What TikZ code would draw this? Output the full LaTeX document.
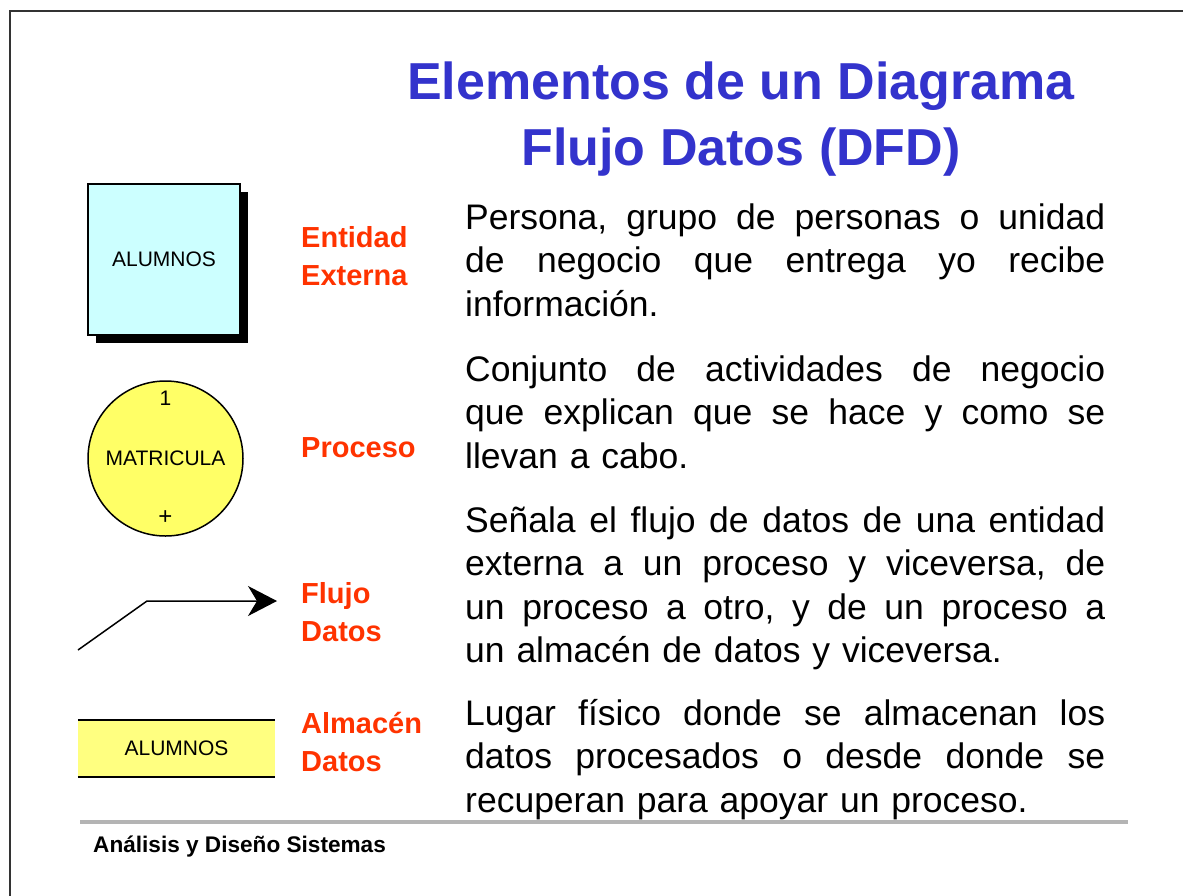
\documentclass[tikz,border=0pt]{standalone}
\usepackage{fontspec}
\setmainfont{Liberation Sans}
\usetikzlibrary{arrows.meta,shadows,positioning}
\definecolor{azulTitulo}{HTML}{3333CC}
\definecolor{rojoEtiq}{HTML}{FF3300}
\definecolor{celeste}{HTML}{CCFFFF}
\definecolor{amarillo}{HTML}{FFFF66}
\definecolor{amarilloAlm}{HTML}{FFFF80}
\definecolor{grisRegla}{HTML}{B4B4B4}
% a justified line: words spread over the full width
\def\renglon#1{\leavevmode\hbox to 640pt{\renglonaux#1 \relax}\\}
\def\renglonaux#1 #2\relax{#1\ifx\relax#2\relax\else\hfill\renglonaux#2\relax\fi}

\begin{document}
\begin{tikzpicture}[x=1pt,y=-1pt,
    chico/.style={font=\fontsize{21}{25}\selectfont},
    entidad/.style={chico,draw,line width=1.5pt,fill=celeste,minimum width=152pt,minimum height=151pt,
        drop shadow={shadow xshift=8pt,shadow yshift=-8pt,fill=black,opacity=1}},
    proceso/.style={chico,circle,draw,line width=1.5pt,fill=amarillo,minimum size=155pt},
    almacen/.style={chico,fill=amarilloAlm,minimum width=197pt,minimum height=57pt},
    etiqueta/.style={anchor=base west,align=left,inner sep=0pt,text=rojoEtiq,
        font=\fontsize{29}{38}\selectfont\bfseries},
    descripcion/.style={anchor=base west,text width=660pt,inner sep=0pt,
        font=\fontsize{35.5}{43.5}\selectfont}]

        \useasboundingbox (0,0) rectangle (1183,895);
        \draw[line width=2pt,black!80] (10,11) rectangle (1210,920);

        % the base of a two-line node is its last line
        \node[anchor=base,align=center,text=azulTitulo,font=\fontsize{52}{66}\selectfont\bfseries]
              (titulo) at (741,165) {Elementos de un Diagrama\\Flujo Datos (DFD)};

        \node[entidad] (ent)  at (164,259.5) {ALUMNOS};
        \node[proceso] (proc) at (165.5,458.5) {MATRICULA};
        \node[chico,anchor=base] (num) at ([yshift=-25pt]proc.north) {1};
        \node[font=\fontsize{24}{24}\selectfont,inner sep=0pt] (mas) at ([yshift=19pt]proc.south) {+};
        \node[almacen] (alm)  at (176.5,748.5) {ALUMNOS};
        \draw[line width=2pt] (alm.north west) -- (alm.north east)
                              (alm.south west) -- (alm.south east);

        \coordinate (fA) at (78,650);
        \coordinate (fB) at (147,601);
        \coordinate (fC) at (277,601);
        \draw[line width=1.5pt,-{Stealth[length=29pt,width=30pt,inset=9pt]}] (fA) -- (fB) -- (fC);

        \node[etiqueta] (lEnt)  at (301,285) {Entidad\\Externa};
        \node[etiqueta] (lProc) at (301,457) {Proceso};
        \node[etiqueta] (lFlu)  at (301,641) {Flujo\\Datos};
        \node[etiqueta] (lAlm)  at (301,771) {Almacén\\Datos};

        \node[descripcion] (dEnt) at (465,229) {%
              \renglon{Persona, grupo de personas o unidad}
              \renglon{de negocio que entrega yo recibe}
              información.};
        \node[descripcion] (dProc) at (465,381) {%
              \renglon{Conjunto de actividades de negocio}
              \renglon{que explican que se hace y como se}
              llevan a cabo.};
        \node[descripcion] (dFlu) at (465,532) {%
              \renglon{Señala el flujo de datos de una entidad}
              \renglon{externa a un proceso y viceversa, de}
              \renglon{un proceso a otro, y de un proceso a}
              un almacén de datos y viceversa.};
        \node[descripcion] (dAlm) at (465,725) {%
              \renglon{Lugar físico donde se almacenan los}
              \renglon{datos procesados o desde donde se}
              recuperan para apoyar un proceso.};

        \draw[line width=4pt,grisRegla] (80,822) -- (1128,822);
        \node[anchor=base west,inner sep=0pt,font=\fontsize{22.6}{26}\selectfont\bfseries]
              (pie) at (93,852) {Análisis y Diseño Sistemas};
      \end{tikzpicture}
\end{document}
